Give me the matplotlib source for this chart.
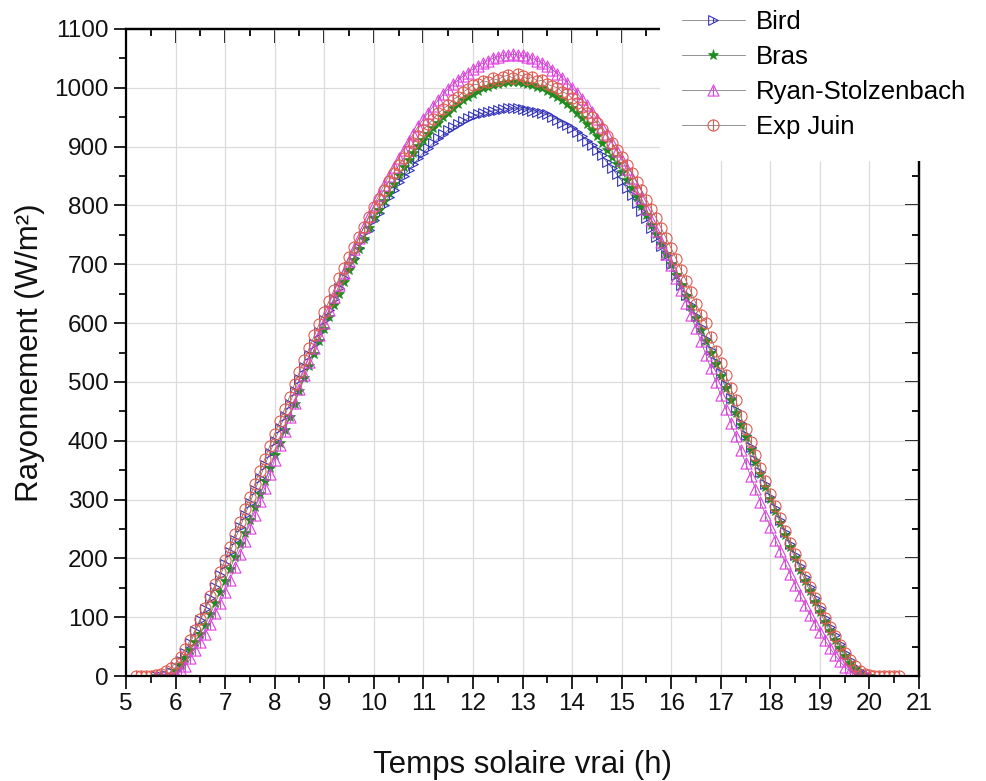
import numpy as np
import matplotlib
matplotlib.use("Agg")
import matplotlib.pyplot as plt
from matplotlib.path import Path
from matplotlib.ticker import MultipleLocator

plt.rcParams['font.family'] = ['Liberation Sans', 'DejaVu Sans']

# sampling times (h), one point every 6 min
t_model = np.arange(56, 201) / 10.0   # 5.6 .. 20.0
t_exp = np.arange(52, 207) / 10.0     # 5.2 .. 20.6

bird = [0, 0, 2, 7,
        15, 26, 40, 57, 76, 95, 114, 133, 152, 171,
        190, 211, 232, 253, 274, 295, 316, 337, 358, 379,
        400, 421, 442, 463, 484, 505, 525, 545, 565, 585,
        605, 623, 641, 659, 677, 695, 711, 727, 743, 759,
        775, 788, 801, 814, 827, 840, 850, 860, 870, 880,
        890, 898, 906, 914, 921, 928, 933, 938, 943, 948,
        952, 955, 957, 959, 961, 963, 964, 965, 965, 965,
        964, 963, 961, 959, 957, 955, 951, 946, 941, 937,
        932, 925, 918, 910, 903, 895, 885, 874, 864, 853,
        842, 829, 817, 804, 791, 778, 762, 747, 731, 716,
        700, 682, 665, 647, 630, 612, 593, 573, 554, 534,
        515, 494, 473, 452, 431, 410, 389, 368, 347, 326,
        305, 285, 265, 245, 225, 205, 187, 169, 151, 133,
        115, 99, 84, 69, 54, 40, 27, 16, 8, 2,
        0]

bras = [0, 0, 0, 2,
        8, 18, 30, 44, 58, 72, 87, 105, 124, 143,
        162, 182, 203, 224, 244, 265, 287, 309, 331, 353,
        375, 397, 419, 441, 463, 485, 506, 527, 548, 569,
        590, 610, 630, 650, 670, 690, 708, 726, 743, 761,
        778, 793, 808, 822, 837, 852, 865, 878, 890, 901,
        912, 922, 932, 941, 950, 958, 965, 972, 979, 985,
        990, 995, 999, 1002, 1005, 1007, 1009, 1010, 1010, 1010,
        1009, 1007, 1005, 1002, 999, 995, 990, 985, 979, 972,
        965, 957, 948, 939, 929, 918, 907, 895, 883, 870,
        857, 843, 829, 814, 799, 783, 767, 751, 734, 717,
        700, 682, 664, 646, 627, 608, 589, 569, 550, 530,
        510, 489, 469, 448, 427, 406, 385, 364, 343, 322,
        301, 280, 260, 240, 220, 200, 181, 162, 144, 126,
        109, 92, 76, 61, 47, 34, 22, 12, 4, 0,
        0]

ryan = [0, 0, 0, 0,
        2, 8, 17, 30, 44, 58, 72, 89, 107, 125,
        143, 164, 185, 207, 229, 251, 274, 297, 320, 344,
        368, 392, 416, 440, 464, 488, 511, 534, 557, 579,
        601, 623, 644, 665, 686, 706, 726, 745, 764, 782,
        800, 817, 834, 850, 866, 881, 895, 909, 922, 935,
        947, 958, 969, 979, 989, 998, 1006, 1013, 1020, 1026,
        1032, 1037, 1042, 1046, 1050, 1053, 1055, 1056, 1057, 1056,
        1055, 1053, 1050, 1046, 1042, 1037, 1031, 1024, 1017, 1009,
        1000, 991, 981, 970, 959, 947, 934, 921, 907, 893,
        878, 862, 846, 829, 812, 794, 776, 757, 738, 718,
        698, 677, 656, 635, 613, 591, 569, 546, 523, 500,
        477, 454, 431, 408, 385, 362, 340, 318, 296, 274,
        253, 232, 212, 192, 173, 155, 137, 120, 104, 89,
        75, 61, 48, 36, 25, 16, 8, 3, 0, 0,
        0]

exp_juin = [0, 0, 0, 0, 2, 4, 8, 14,
            22, 33, 46, 62, 79, 97, 116, 136, 156, 177,
            198, 220, 241, 262, 284, 305, 327, 348, 369, 391,
            412, 433, 454, 475, 496, 517, 537, 558, 579, 599,
            619, 638, 657, 676, 694, 712, 729, 746, 763, 780,
            797, 811, 826, 841, 855, 868, 880, 893, 906, 918,
            929, 938, 947, 957, 964, 971, 980, 985, 993, 998,
            1005, 1006, 1012, 1010, 1016, 1013, 1019, 1021, 1017, 1023,
            1020, 1015, 1018, 1011, 1013, 1006, 1003, 1000, 993, 990,
            982, 975, 968, 958, 950, 940, 930, 918, 907, 895,
            882, 868, 855, 840, 826, 810, 794, 778, 761, 744,
            727, 709, 690, 672, 653, 633, 614, 601, 576, 553,
            532, 512, 489, 470, 442, 420, 398, 376, 354, 332,
            310, 289, 268, 247, 227, 207, 188, 169, 151, 133,
            116, 99, 83, 68, 53, 40, 28, 17, 9, 4,
            1, 0, 0, 0, 0, 0, 0]

labels = ["Bird", "Bras", "Ryan-Stolzenbach", "Exp Juin"]


# Origin-like symbols with a centre bar
def with_bar(base, y0=-1, y1=1):
    bar = Path([(0, y0), (0, y1)], [Path.MOVETO, Path.LINETO])
    return Path.make_compound_path(base, bar)


tri_right = Path([(-1, -1), (1, 0), (-1, 1), (-1, -1)],
                 [Path.MOVETO, Path.LINETO, Path.LINETO, Path.CLOSEPOLY])
tri_up = Path([(-1, -1), (1, -1), (0, 1), (-1, -1)],
              [Path.MOVETO, Path.LINETO, Path.LINETO, Path.CLOSEPOLY])
m_bird = with_bar(tri_right, -0.5, 0.5)
m_ryan = with_bar(tri_up, -1, 0.6)
m_exp = with_bar(Path.unit_circle())

fig = plt.figure(figsize=(9.86, 7.81), dpi=100)
ax = fig.add_axes([0.1278, 0.1344, 0.8043, 0.8285])

line_kw = dict(color="#666666", lw=0.5)
ax.plot(t_model, bird, marker=m_bird, ms=7, mfc="none", mec="#3535c0", mew=0.8,
        label=labels[0], **line_kw)
ax.plot(t_model, bras, marker="*", ms=8, mfc="#1e8c1e", mec="#1e8c1e", mew=0.5,
        label=labels[1], **line_kw)
ax.plot(t_model, ryan, marker=m_ryan, ms=8, mfc="none", mec="#e040e0", mew=0.8,
        label=labels[2], **line_kw)
ax.plot(t_exp, exp_juin, marker=m_exp, ms=8, mfc="none", mec="#e05a50", mew=0.8,
        label=labels[3], **line_kw)

ax.set_xlim(5, 21)
ax.set_ylim(0, 1100)
ax.xaxis.set_major_locator(MultipleLocator(1))
ax.xaxis.set_minor_locator(MultipleLocator(0.5))
ax.yaxis.set_major_locator(MultipleLocator(100))
ax.yaxis.set_minor_locator(MultipleLocator(50))

ax.grid(True, which="major", color="#dcdcdc", lw=0.9)
ax.set_axisbelow(True)

for s in ax.spines.values():
    s.set_linewidth(1.6)

ax.tick_params(which="both", width=1.3, labelsize=17.5, colors="#111111")
ax.tick_params(which="major", length=9)
ax.tick_params(which="minor", length=5)
ax.tick_params(axis="x", which="both", direction="out", top=False, pad=3)
ax.tick_params(axis="y", which="both", direction="out", right=False, pad=3.5)

# inward ticks on top and right
ax_top = ax.secondary_xaxis("top")
ax_top.set_xticks(np.arange(5, 22, 1))
ax_top.xaxis.set_minor_locator(MultipleLocator(0.5))
ax_top.tick_params(which="both", direction="in", width=1.3, labeltop=False)
ax_top.tick_params(which="major", length=10)
ax_top.tick_params(which="minor", length=5)
ax_right = ax.secondary_yaxis("right")
ax_right.set_yticks(np.arange(0, 1200, 100))
ax_right.yaxis.set_minor_locator(MultipleLocator(50))
ax_right.tick_params(which="both", direction="in", width=1.3, labelright=False)
ax_right.tick_params(which="major", length=10)
ax_right.tick_params(which="minor", length=5)
for sec in (ax_top, ax_right):
    for s in sec.spines.values():
        s.set_linewidth(1.6)

ax.set_xlabel("Temps solaire vrai (h)", fontsize=22.5, color="#111111")
ax.set_ylabel("Rayonnement (W/m²)", fontsize=22.5, color="#111111")
ax.xaxis.set_label_coords(0.5, -0.115)
ax.yaxis.set_label_coords(-0.102, 0.5)

leg = fig.legend(loc="upper left", bbox_to_anchor=(660 / 986, 1 + 12 / 781),
                 borderaxespad=0, fontsize=18.5, frameon=True, facecolor="white",
                 edgecolor="none", framealpha=1, fancybox=False,
                 handlelength=2.45, handletextpad=0.45, labelspacing=0.43,
                 borderpad=0.85, markerscale=1.0)
leg.set_zorder(10)

fig.savefig("out.png", dpi=100)
